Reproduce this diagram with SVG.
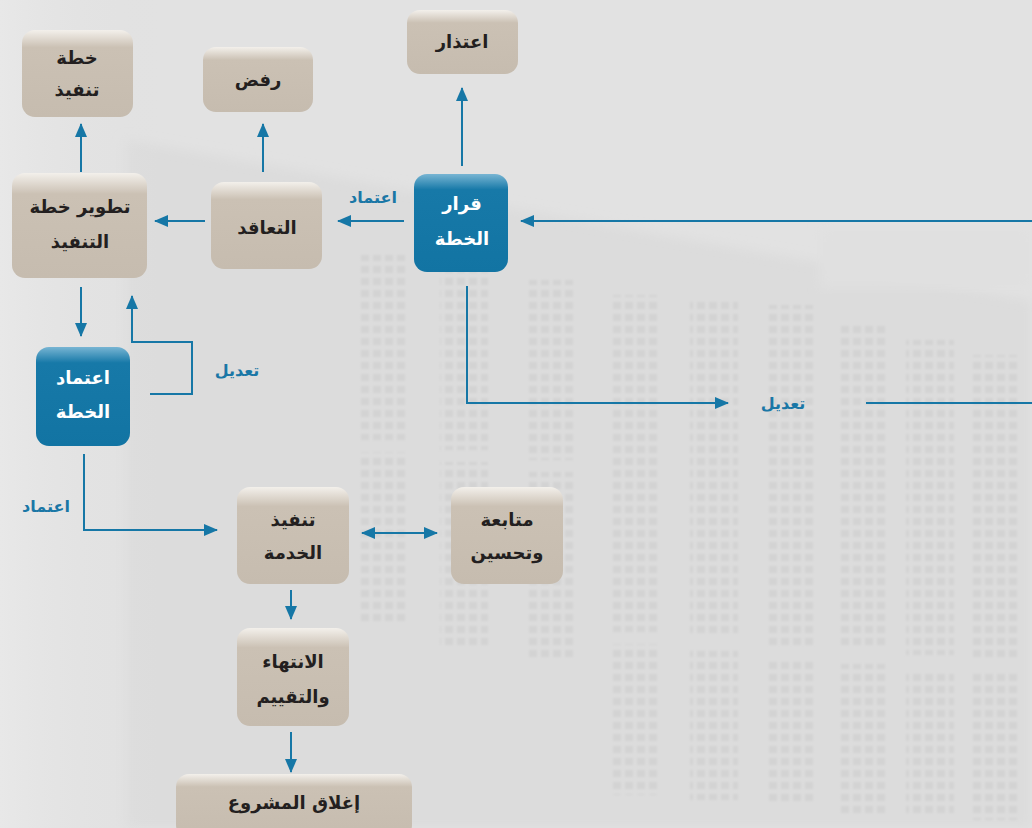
<svg xmlns="http://www.w3.org/2000/svg" width="1032" height="828" viewBox="0 0 1032 828">
  <style>
    .lbl { font-family: "DejaVu Sans", "Noto Sans", sans-serif; font-weight: bold; font-size: 18px; fill: #231f20; text-anchor: middle; }
    .lbl.w { fill: #ffffff; }
    .edge-lbl { font-family: "DejaVu Sans", "Noto Sans", sans-serif; font-weight: bold; font-size: 16px; fill: #1a77a6; text-anchor: middle; }
    .tan { fill: url(#tanGrad); }
    .blue { fill: url(#blueGrad); }
    .con { fill: none; stroke: #1677a6; stroke-width: 2; }
  </style>
  <defs>
    <linearGradient id="tanGrad" x1="0" y1="0" x2="0" y2="1">
      <stop offset="0" stop-color="#f3f0eb"/>
      <stop offset="0.2" stop-color="#cbc1b4"/>
      <stop offset="1" stop-color="#c6bcaf"/>
    </linearGradient>
    <linearGradient id="blueGrad" x1="0" y1="0" x2="0" y2="1">
      <stop offset="0" stop-color="#78b5d3"/>
      <stop offset="0.16" stop-color="#1779a8"/>
      <stop offset="1" stop-color="#1274a3"/>
    </linearGradient>
    <linearGradient id="leftBand" x1="0" y1="0" x2="1" y2="0">
      <stop offset="0" stop-color="#e8e8e8"/>
      <stop offset="1" stop-color="#e0e0e0" stop-opacity="0"/>
    </linearGradient>
    <pattern id="windows" width="12" height="12" patternUnits="userSpaceOnUse">
      <rect x="1" y="2" width="8" height="7" fill="#d3d3d3"/>
    </pattern>
    <filter id="soft" x="-5%" y="-5%" width="110%" height="110%">
      <feGaussianBlur stdDeviation="1.2"/>
    </filter>
    <filter id="haze" x="-10%" y="-10%" width="120%" height="120%">
      <feGaussianBlur stdDeviation="6"/>
    </filter>
    <marker id="ah" viewBox="0 0 14 12" refX="13" refY="6" markerWidth="14" markerHeight="12" markerUnits="userSpaceOnUse" orient="auto-start-reverse">
      <path d="M0,0 L14,6 L0,12 Z" fill="#1677a6"/>
    </marker>
  </defs>

  <!-- faded building backdrop -->
  <g id="backdrop">
    <rect width="1032" height="828" fill="#e2e2e2"/>
    <polygon points="125,140 1032,300 1032,828 125,828" fill="#dcdcdc" filter="url(#haze)"/>
    <rect x="0" y="0" width="160" height="828" fill="url(#leftBand)"/>
    <rect x="820" y="228" width="212" height="60" fill="#e0e0e0" filter="url(#haze)"/>
    <g filter="url(#soft)">
      <rect x="358" y="255" width="48" height="370" fill="url(#windows)"/>
      <rect x="440" y="265" width="48" height="380" fill="url(#windows)"/>
      <rect x="527" y="280" width="48" height="380" fill="url(#windows)"/>
      <rect x="612" y="295" width="48" height="500" fill="url(#windows)"/>
      <rect x="690" y="300" width="48" height="500" fill="url(#windows)"/>
      <rect x="766" y="305" width="48" height="500" fill="url(#windows)"/>
      <rect x="838" y="325" width="48" height="490" fill="url(#windows)"/>
      <rect x="906" y="340" width="48" height="475" fill="url(#windows)"/>
      <rect x="972" y="355" width="48" height="465" fill="url(#windows)"/>
      <g fill="#dcdcdc">
        <rect x="356" y="440" width="52" height="12"/>
        <rect x="438" y="450" width="52" height="12"/>
        <rect x="525" y="460" width="52" height="12"/>
        <rect x="610" y="632" width="52" height="12"/>
        <rect x="688" y="638" width="52" height="13"/>
        <rect x="764" y="646" width="52" height="13"/>
        <rect x="836" y="650" width="52" height="14"/>
        <rect x="904" y="655" width="52" height="14"/>
        <rect x="970" y="660" width="52" height="14"/>
      </g>
    </g>
  </g>

  <!-- connectors -->
  <g id="connectors">
    <line class="con" x1="462" y1="166" x2="462" y2="88" marker-end="url(#ah)"/>
    <line class="con" x1="263" y1="172" x2="263" y2="124" marker-end="url(#ah)"/>
    <line class="con" x1="81" y1="172" x2="81" y2="124" marker-end="url(#ah)"/>
    <line class="con" x1="205" y1="221" x2="155" y2="221" marker-end="url(#ah)"/>
    <line class="con" x1="404" y1="221" x2="338" y2="221" marker-end="url(#ah)"/>
    <line class="con" x1="1032" y1="221" x2="521" y2="221" marker-end="url(#ah)"/>
    <polyline class="con" points="467,286 467,403 728,403" marker-end="url(#ah)"/>
    <line class="con" x1="866" y1="403" x2="1032" y2="403"/>
    <line class="con" x1="81" y1="287" x2="81" y2="336" marker-end="url(#ah)"/>
    <polyline class="con" points="150,394 192,394 192,342 132,342 132,296" marker-end="url(#ah)"/>
    <polyline class="con" points="84,454 84,530 217,530" marker-end="url(#ah)"/>
    <line class="con" x1="362" y1="533" x2="437" y2="533" marker-start="url(#ah)" marker-end="url(#ah)"/>
    <line class="con" x1="291" y1="590" x2="291" y2="619" marker-end="url(#ah)"/>
    <line class="con" x1="291" y1="732" x2="291" y2="772" marker-end="url(#ah)"/>
    <text class="edge-lbl" x="373" y="203">اعتماد</text>
    <text class="edge-lbl" x="783" y="409">تعديل</text>
    <text class="edge-lbl" x="237" y="376">تعديل</text>
    <text class="edge-lbl" x="46" y="512">اعتماد</text>
  </g>

  <!-- nodes -->
  <g id="n-khutta-tanfeedh">
    <rect class="tan" x="22" y="30" width="111" height="87" rx="13"/>
    <text class="lbl" x="77" y="64">خطة</text>
    <text class="lbl" x="77" y="96">تنفيذ</text>
  </g>
  <g id="n-rafd">
    <rect class="tan" x="203" y="47" width="110" height="65" rx="13"/>
    <text class="lbl" x="258" y="86">رفض</text>
  </g>
  <g id="n-itidhar">
    <rect class="tan" x="407" y="10" width="111" height="64" rx="13"/>
    <text class="lbl" x="462" y="48">اعتذار</text>
  </g>
  <g id="n-tatweer">
    <rect class="tan" x="12" y="173" width="135" height="105" rx="13"/>
    <text class="lbl" x="80" y="213">تطوير خطة</text>
    <text class="lbl" x="80" y="248">التنفيذ</text>
  </g>
  <g id="n-taaqud">
    <rect class="tan" x="211" y="182" width="111" height="87" rx="13"/>
    <text class="lbl" x="267" y="234">التعاقد</text>
  </g>
  <g id="n-qarar">
    <rect class="blue" x="414" y="174" width="94" height="98" rx="13"/>
    <text class="lbl w" x="462" y="210">قرار</text>
    <text class="lbl w" x="462" y="245">الخطة</text>
  </g>
  <g id="n-itimad">
    <rect class="blue" x="36" y="347" width="94" height="99" rx="13"/>
    <text class="lbl w" x="83" y="384">اعتماد</text>
    <text class="lbl w" x="83" y="418">الخطة</text>
  </g>
  <g id="n-tanfeedh-khidma">
    <rect class="tan" x="237" y="487" width="112" height="97" rx="13"/>
    <text class="lbl" x="293" y="526">تنفيذ</text>
    <text class="lbl" x="293" y="559">الخدمة</text>
  </g>
  <g id="n-mutaba">
    <rect class="tan" x="451" y="487" width="112" height="97" rx="13"/>
    <text class="lbl" x="507" y="526">متابعة</text>
    <text class="lbl" x="507" y="559">وتحسين</text>
  </g>
  <g id="n-intihaa">
    <rect class="tan" x="237" y="628" width="112" height="98" rx="13"/>
    <text class="lbl" x="293" y="668">الانتهاء</text>
    <text class="lbl" x="293" y="703">والتقييم</text>
  </g>
  <g id="n-ighlaq">
    <rect class="tan" x="176" y="774" width="236" height="64" rx="13"/>
    <text class="lbl" x="294" y="809">إغلاق المشروع</text>
  </g>
</svg>
